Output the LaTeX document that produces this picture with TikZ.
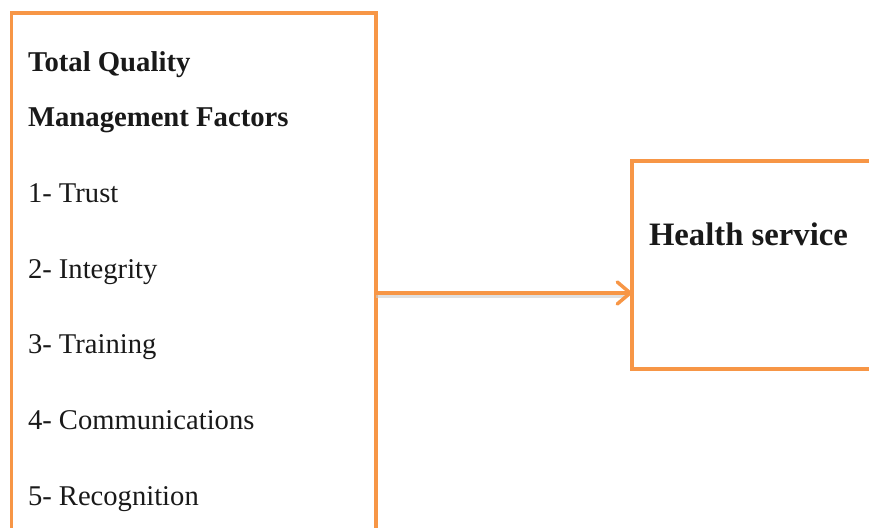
\documentclass[tikz,border=0pt]{standalone}
\usepackage{fontspec}
\setmainfont{Liberation Serif}
\definecolor{FactorOrange}{RGB}{247,150,70}
\usetikzlibrary{arrows.meta}

\begin{document}
\begin{tikzpicture}[x=1pt,y=-1pt,every node/.style={inner sep=0pt,outer sep=0pt},
box/.style={draw=FactorOrange,line width=3.5pt,anchor=north west},
item/.style={anchor=base west,text=black!90,font=\fontsize{28.6}{30}\selectfont},
heading/.style={item,font=\fontsize{28.7}{30}\selectfont\bfseries},
arrow/.style={-{Straight Barb[round,length=13pt,width=22pt]},draw=FactorOrange,line width=3.5pt},
shade/.style={draw=black!20,line width=4pt,opacity=0.6}]
\useasboundingbox (0,0) rectangle (869,527);
\clip (0,0) rectangle (869,527);
\node[box,minimum width=364.5pt,minimum height=560pt] (tqm) at (11.5,13) {};
\node[box,minimum width=300pt,minimum height=208pt] (health) at (632,161) {};
\node[heading] (title1) at (28,71) {Total Quality};
\node[heading] (title2) at (28,126) {Management Factors};
\node[item] (trust) at (28,202) {1- Trust};
\node[item] (integrity) at (28,278) {2- Integrity};
\node[item] (training) at (28,353) {3- Training};
\node[item] (comms) at (28,429) {4- Communications};
\node[item] (recog) at (28,505) {5- Recognition};
\node[heading,font=\fontsize{32.7}{36}\selectfont\bfseries] (hlabel) at (649,245) {Health service};
\coordinate (join) at ([yshift=-28pt]health.west);
\coordinate (joinshade) at ([yshift=-3pt,xshift=-6pt]join);
\draw[shade] (joinshade -| tqm.east) -- (joinshade);
\draw[arrow] (join -| tqm.east) -- (join);
\end{tikzpicture}
\end{document}
